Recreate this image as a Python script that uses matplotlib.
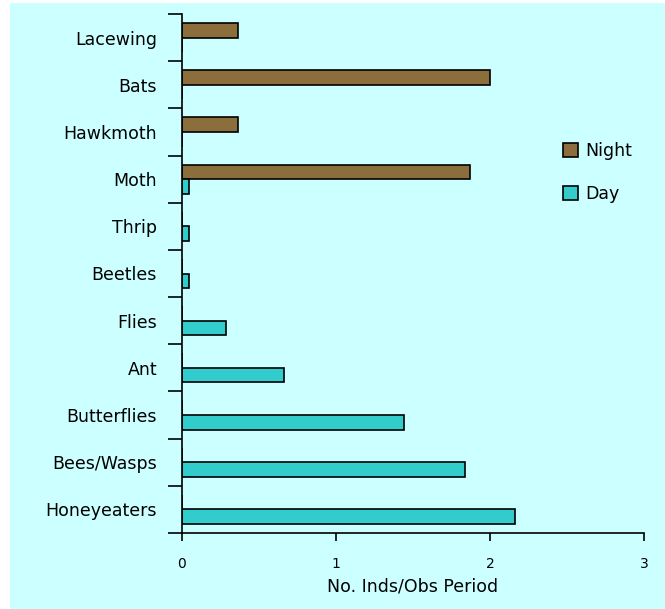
import matplotlib
matplotlib.use("Agg")
import matplotlib.pyplot as plt
import matplotlib.patches as mpatches
import numpy as np

BG = "#CCFFFF"
NIGHT_COL = "#8C6E3C"
DAY_COL = "#33CCCC"

# bottom to top, as drawn on the y axis
categories = ["Honeyeaters", "Bees/Wasps", "Butterflies", "Ant", "Flies",
              "Beetles", "Thrip", "Moth", "Hawkmoth", "Bats", "Lacewing"]
day = [2.16, 1.835, 1.44, 0.665, 0.284, 0.047, 0.047, 0.047, 0, 0, 0]
night = [0, 0, 0, 0, 0, 0, 0, 1.87, 0.366, 2.0, 0.366]
xticks = [0, 1, 2, 3]

fig = plt.figure(figsize=(6.65, 6.09), dpi=100)
fig.patch.set_facecolor("white")
fig.patches.append(mpatches.Rectangle((10 / 665, 0), 1, 1 - 3 / 609,
                                      transform=fig.transFigure,
                                      facecolor=BG, edgecolor="none", zorder=-1))

ax = fig.add_axes([182 / 665, 1 - 533 / 609, (644 - 182) / 665, (533 - 14) / 609])
ax.set_facecolor("none")

y = np.arange(len(categories))
h = 0.31
ax.barh(y + h / 2, night, height=h, color=NIGHT_COL, edgecolor="black",
        linewidth=1.2, label="Night")
ax.barh(y - h / 2, day, height=h, color=DAY_COL, edgecolor="black",
        linewidth=1.2, label="Day")

ax.set_xlim(0, 3)
ax.set_ylim(-0.5, len(categories) - 0.5)
ax.set_xticks(xticks)
ax.set_xticklabels([str(t) for t in xticks], fontsize=10)
ax.tick_params(axis="x", length=6, width=1.2, pad=11)

# tick marks at category boundaries, labels at centers
ax.set_yticks(np.arange(len(categories) + 1) - 0.5)
ax.set_yticklabels([])
ax.set_yticks(y, minor=True)
ax.set_yticklabels(categories, minor=True, fontsize=12.5)
ax.tick_params(axis="y", which="major", length=10, width=1.2)
ax.tick_params(axis="y", which="minor", length=0, pad=18)

for s in ["top", "right"]:
    ax.spines[s].set_visible(False)
for s in ["left", "bottom"]:
    ax.spines[s].set_linewidth(1.2)

ax.set_xlabel("No. Inds/Obs Period", fontsize=12.5, labelpad=5)

ax.legend(loc="center left", bbox_to_anchor=(0.79, 0.695), frameon=False,
          fontsize=12.5, handlelength=0.9, handleheight=0.9, labelspacing=1.45,
          handletextpad=0.4)

fig.savefig("out.png", dpi=100, facecolor=fig.get_facecolor())
